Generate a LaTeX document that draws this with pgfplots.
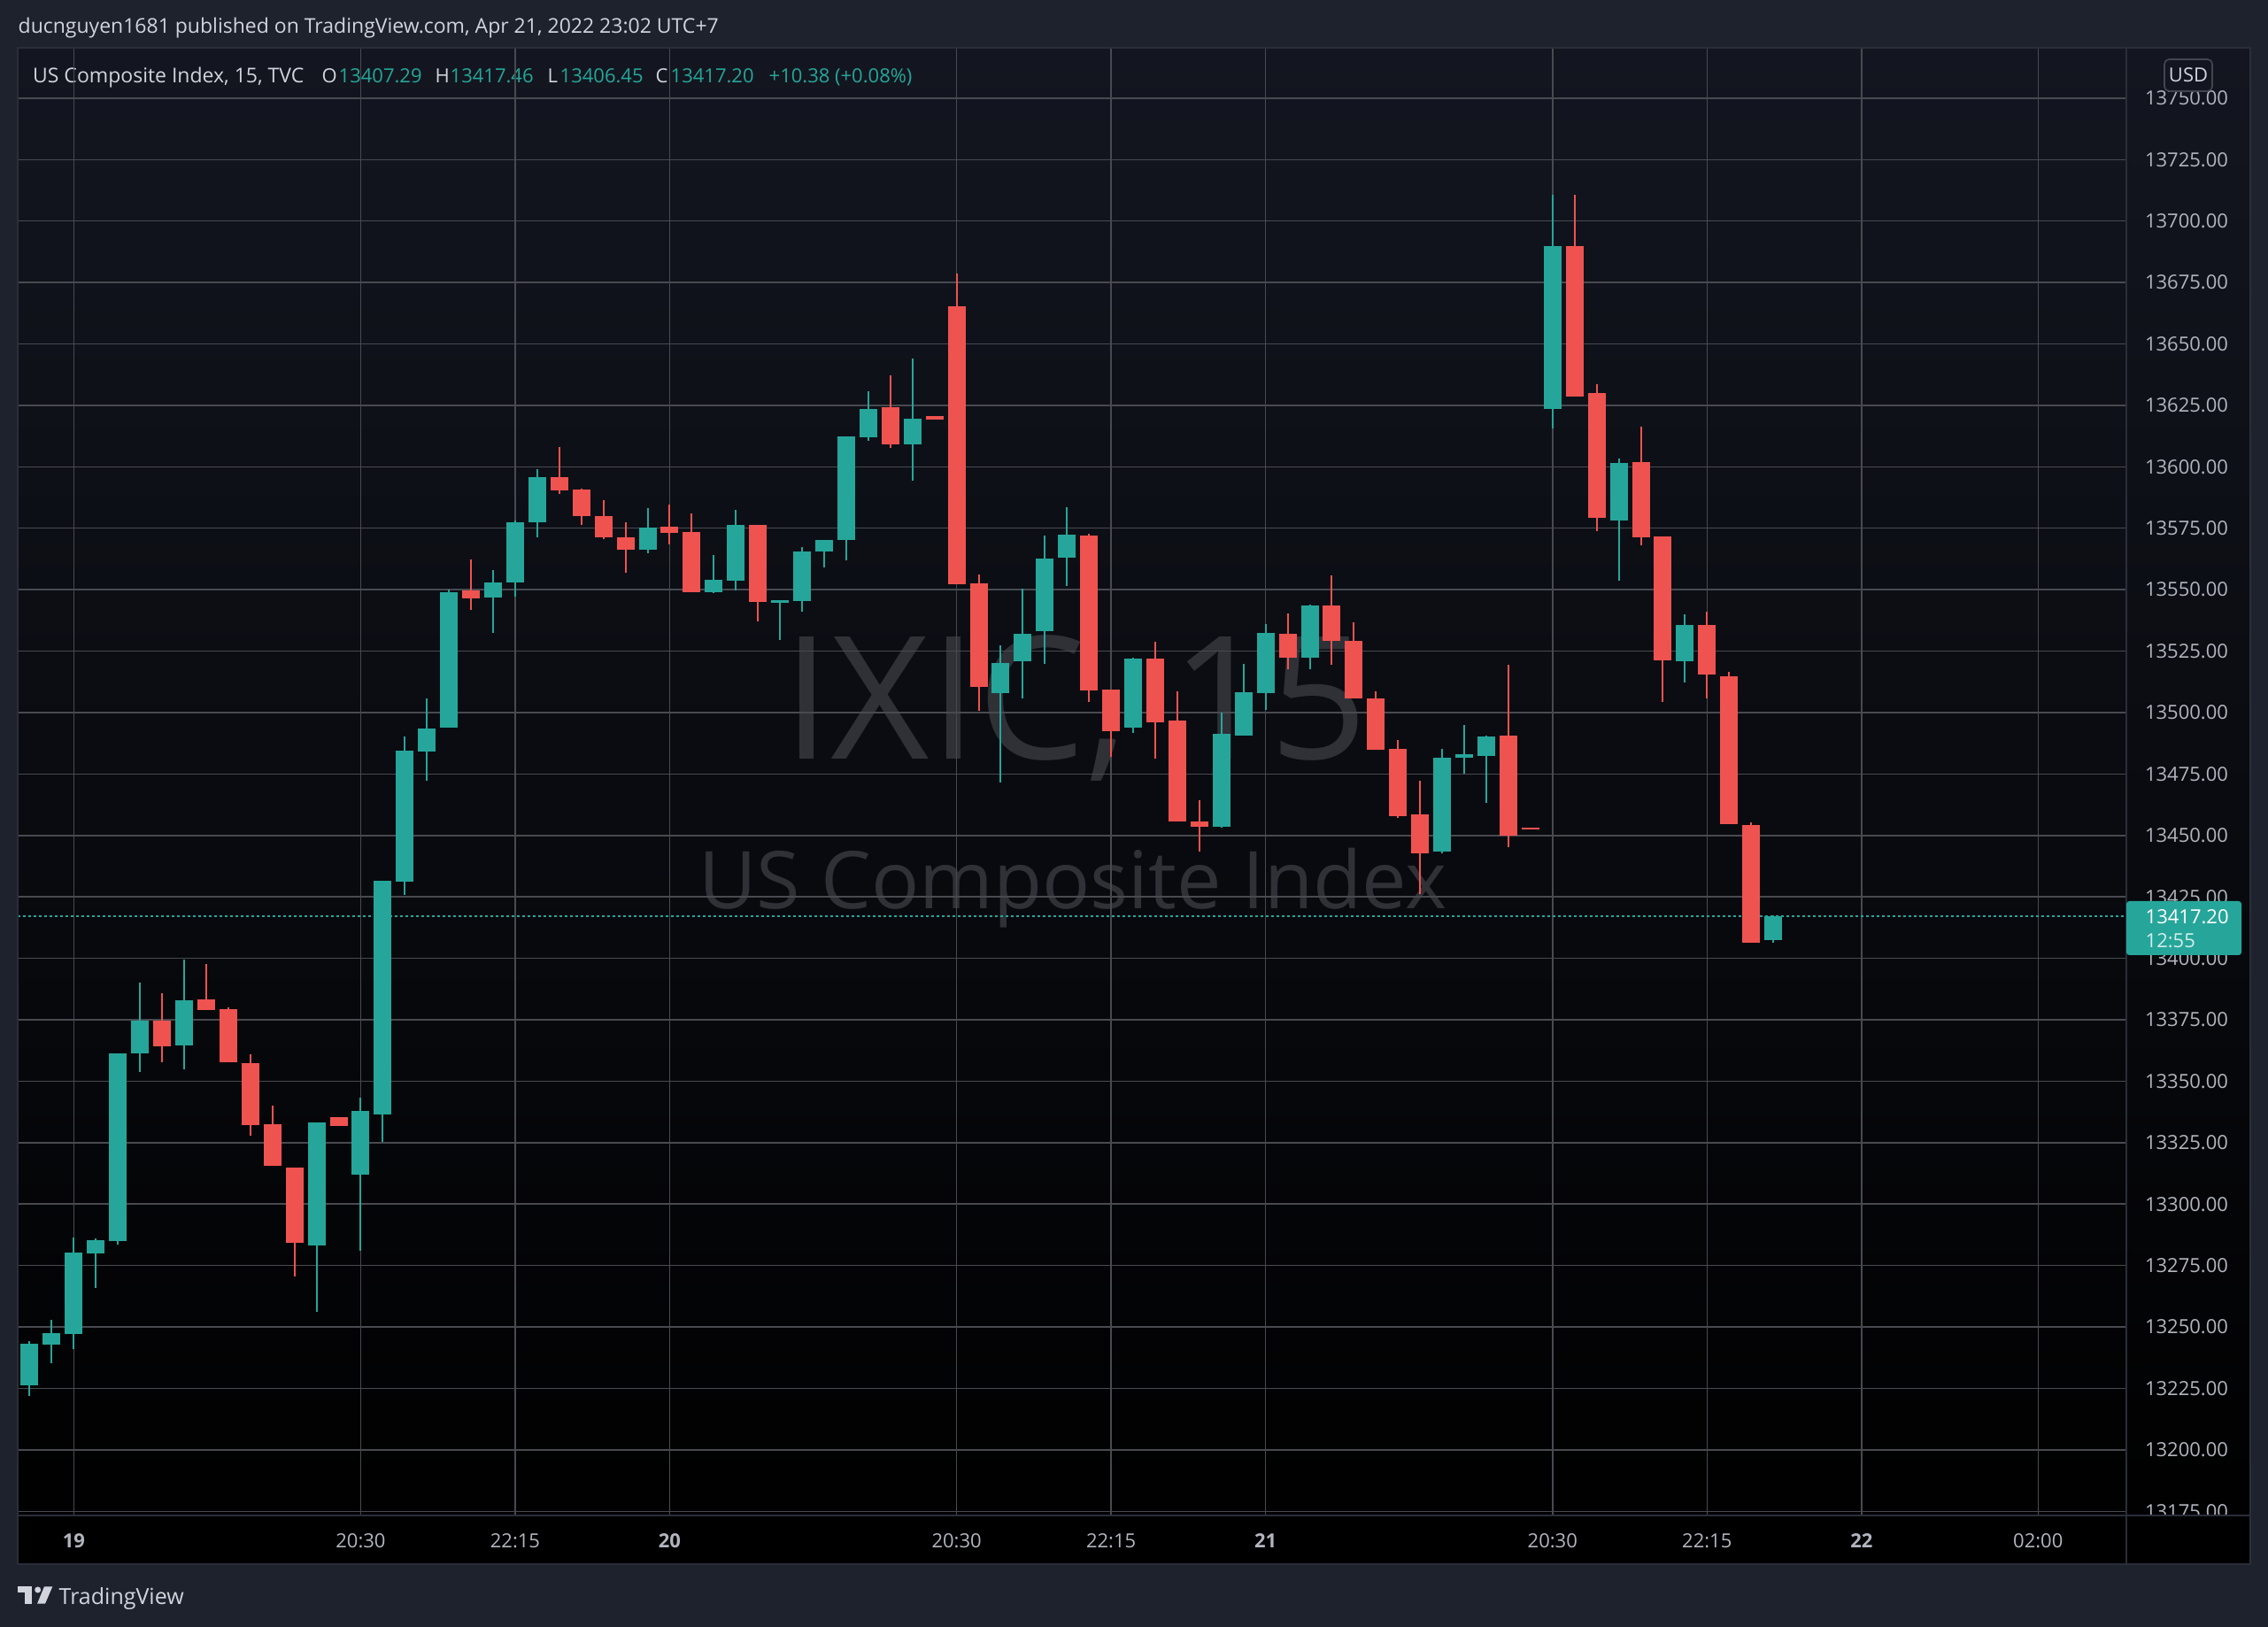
\documentclass[border=0pt]{standalone}
\usepackage{fontspec}
\setmainfont{Open Sans}
\usepackage{pgfplots}
\pgfplotsset{compat=1.18}
\usepackage{pgfplotstable}

\definecolor{outerbg}{RGB}{30,34,45}
\definecolor{panetop}{RGB}{19,22,32}
\definecolor{bordercol}{RGB}{42,46,57}
\definecolor{gridcol}{RGB}{72,74,80}
\definecolor{upcol}{RGB}{38,166,154}
\definecolor{downcol}{RGB}{239,83,80}
\definecolor{txt}{RGB}{209,212,220}
\definecolor{ticktxt}{RGB}{178,181,190}
\definecolor{wmcol}{RGB}{47,49,55}
\definecolor{usdborder}{RGB}{67,70,81}

\newcommand\tvf{\fontsize{6.6pt}{8pt}\selectfont}
\newcommand\hdf{\fontsize{6.9pt}{8pt}\selectfont}

% 15-minute candles, x = candle index (0 = Apr 18 23:30)
\pgfplotstableread{
i O H L C
0 13226.4 13244.3 13222.1 13243.2
1 13242.8 13253.0 13235.2 13247.5
2 13247.1 13286.5 13241.1 13280.3
3 13279.9 13286.1 13265.9 13285.4
4 13285.0 13361.4 13283.5 13361.4
5 13361.4 13390.2 13353.8 13374.7
7 13364.6 13399.5 13354.8 13383.0
13 13283.0 13333.3 13256.3 13333.3
15 13312.0 13343.4 13281.0 13338.0
16 13336.3 13431.4 13325.2 13431.4
17 13431.2 13490.4 13425.9 13484.6
18 13484.2 13505.6 13472.2 13493.4
19 13493.8 13550.0 13493.8 13549.1
21 13546.8 13558.1 13532.5 13553.0
22 13553.0 13578.2 13547.0 13577.6
23 13577.4 13598.9 13571.4 13595.9
28 13566.2 13583.3 13564.7 13575.4
31 13549.0 13564.0 13548.5 13553.9
32 13553.6 13582.3 13549.7 13576.2
34 13544.6 13545.9 13529.5 13545.6
35 13545.3 13567.2 13541.0 13565.4
36 13565.4 13570.4 13559.0 13570.4
37 13570.2 13612.2 13561.9 13612.2
38 13612.0 13630.9 13610.5 13623.4
40 13609.1 13643.9 13594.3 13619.4
44 13507.9 13527.3 13471.5 13520.1
45 13520.9 13550.4 13505.7 13532.0
46 13533.1 13572.0 13519.8 13562.6
47 13563.0 13583.5 13551.5 13572.4
50 13493.8 13522.3 13491.7 13521.9
54 13453.5 13500.0 13453.2 13491.3
55 13490.6 13519.8 13490.6 13508.3
56 13507.9 13536.0 13501.0 13532.4
58 13522.5 13543.8 13517.5 13543.4
64 13443.6 13485.4 13442.9 13481.8
65 13481.5 13495.1 13475.3 13482.9
66 13482.5 13490.8 13463.4 13490.1
69 13623.5 13710.6 13615.7 13689.8
72 13578.3 13603.5 13553.6 13601.4
75 13520.9 13540.1 13512.3 13535.8
79 13407.29 13417.46 13406.45 13417.20
}\upcandles

\pgfplotstableread{
i O H L C
6 13374.7 13385.9 13357.7 13364.3
8 13383.4 13397.8 13379.0 13379.0
9 13379.4 13380.1 13357.7 13357.7
10 13357.4 13361.0 13327.8 13332.3
11 13332.5 13340.1 13315.4 13315.4
12 13314.9 13314.9 13270.7 13284.4
14 13335.4 13335.4 13331.9 13331.9
20 13549.8 13562.4 13541.7 13546.4
24 13595.9 13608.1 13588.9 13590.4
25 13590.6 13591.0 13576.3 13579.9
26 13580.1 13586.5 13570.5 13571.4
27 13571.4 13577.6 13556.8 13566.2
29 13575.5 13584.5 13568.6 13573.1
30 13573.3 13581.2 13549.0 13549.0
33 13576.2 13576.2 13537.1 13545.0
39 13624.1 13637.4 13607.7 13609.1
41 13620.5 13620.5 13619.2 13619.2
42 13665.2 13678.5 13552.2 13552.2
43 13552.6 13556.2 13500.8 13510.5
48 13572.0 13572.7 13504.3 13509.0
49 13509.3 13509.3 13482.0 13492.4
51 13521.9 13528.8 13481.2 13496.0
52 13496.7 13508.6 13455.7 13455.7
53 13455.7 13464.3 13443.4 13453.5
57 13532.2 13540.5 13517.5 13522.5
59 13543.4 13556.0 13519.3 13529.0
60 13529.0 13536.6 13505.6 13505.6
61 13505.9 13508.5 13484.7 13484.7
62 13485.4 13489.0 13457.0 13458.0
63 13458.4 13472.1 13426.0 13442.9
67 13490.8 13519.6 13445.1 13450.1
68 13453.1 13453.1 13452.4 13452.4
70 13689.8 13710.6 13628.6 13628.6
71 13629.9 13633.7 13573.8 13579.3
73 13601.8 13616.2 13567.9 13571.4
74 13571.6 13571.6 13504.3 13521.3
76 13535.8 13540.9 13505.7 13515.5
77 13514.9 13516.4 13454.6 13454.6
78 13454.4 13455.4 13406.3 13406.3
}\downcandles

\begin{document}
\begin{tikzpicture}
% outer background
\fill[outerbg] (0pt,0pt) rectangle (768.6pt,551.4pt);
% chart pane gradient
\shade[top color=panetop, bottom color=black] (6pt,535.2pt) rectangle (762.6pt,21.3pt);

\begin{scope}[x=0.3pt,y=-0.3pt,shift={(0pt,551.4pt)}]
  % time axis row
  \fill[black] (20,1712) rectangle (2542,1767);
  % watermark
  \node[anchor=base, inner sep=0pt, text=wmcol, font=\fontsize{58pt}{60pt}\selectfont] at (1215,858) {IXIC, 15};
  \node[anchor=base, inner sep=0pt, text=wmcol, font=\fontsize{27pt}{30pt}\selectfont] at (1212,1027) {US Composite Index};
  % header
  \node[anchor=base west, inner sep=0pt, text=txt, font=\hdf] at (20,37.7) {ducnguyen1681 published on TradingView.com, Apr 21, 2022 23:02 UTC+7};
  % legend line
  \begin{scope}[every node/.style={anchor=base west, inner sep=0pt, font=\tvf}]
    \node[text=txt, font=\hdf] at (36.5,93.3) {US Composite Index, 15, TVC};
    \node[text=txt] at (363,93.3) {O};
    \node[text=upcol] at (382,93.3) {13407.29};
    \node[text=txt] at (491,93.3) {H};
    \node[text=upcol] at (508,93.3) {13417.46};
    \node[text=txt] at (618,93.3) {L};
    \node[text=upcol] at (632,93.3) {13406.45};
    \node[text=txt] at (740,93.3) {C};
    \node[text=upcol] at (757,93.3) {13417.20};
    \node[text=upcol] at (868,93.3) {+10.38 (+0.08\%)};
  \end{scope}
  % TradingView logo
  \fill[txt] (20,1792.3) rectangle (36,1799.3);
  \fill[txt] (28,1792.3) rectangle (36,1811.7);
  \fill[txt] (42.7,1796) circle (3.5);
  \fill[txt] (50,1792.3) -- (59.3,1792.3) -- (51,1811.7) -- (42,1811.7) -- cycle;
  \node[anchor=base west, inner sep=0pt, text=txt, font=\fontsize{7.5pt}{9pt}\selectfont] at (66,1812) {TradingView};
\end{scope}

\begin{axis}[
  at={(6pt,37.8pt)}, anchor=south west,
  scale only axis, width=714.6pt, height=497.4pt,
  xmin=-0.54, xmax=95.0, ymin=13173.3, ymax=13770.5,
  scaled x ticks=false, scaled y ticks=false,
  axis line style={draw=none},
  major tick length=0pt,
  grid=major,
  major grid style={draw=gridcol, line width=0.45pt},
  xtick={2,15,22,29,42,49,56,69,76,83,91},
  xticklabels={\textbf{19},20:30,22:15,\textbf{20},20:30,22:15,\textbf{21},20:30,22:15,\textbf{22},02:00},
  xticklabel style={anchor=center, yshift=-8.7pt, inner sep=0pt, text=ticktxt, font=\tvf},
  ytick={13175,13200,13225,13250,13275,13300,13325,13350,13375,13400,13425,13450,13475,13500,13525,13550,13575,13600,13625,13650,13675,13700,13725,13750},
  yticklabels={13175.00,13200.00,13225.00,13250.00,13275.00,13300.00,13325.00,13350.00,13375.00,13400.00,13425.00,13450.00,13475.00,13500.00,13525.00,13550.00,13575.00,13600.00,13625.00,13650.00,13675.00,13700.00,13725.00,13750.00},
  yticklabel pos=right,
  yticklabel style={anchor=center, xshift=20.4pt, inner sep=0pt, text=ticktxt, font=\tvf},
]
% last price line
\addplot[draw=upcol, line width=0.5pt, dash pattern=on 0.9pt off 0.9pt, forget plot] coordinates {(-0.54,13417.2) (95,13417.2)};
% up candles
\addplot[draw=none, mark=none, forget plot,
  error bars/.cd, y dir=plus, y explicit, error mark=none,
  error bar style={draw=upcol, line width=0.6pt}]
  table[x=i, y=L, y error expr=\thisrow{H}-\thisrow{L}] {\upcandles};
\addplot[draw=none, mark=none, forget plot,
  error bars/.cd, y dir=plus, y explicit, error mark=none,
  error bar style={draw=upcol, line width=6pt}]
  table[x=i, y=O, y error expr=\thisrow{C}-\thisrow{O}] {\upcandles};
% down candles
\addplot[draw=none, mark=none, forget plot,
  error bars/.cd, y dir=plus, y explicit, error mark=none,
  error bar style={draw=downcol, line width=0.6pt}]
  table[x=i, y=L, y error expr=\thisrow{H}-\thisrow{L}] {\downcandles};
\addplot[draw=none, mark=none, forget plot,
  error bars/.cd, y dir=plus, y explicit, error mark=none,
  error bar style={draw=downcol, line width=6pt}]
  table[x=i, y=C, y error expr=\thisrow{O}-\thisrow{C}] {\downcandles};
\end{axis}

\begin{scope}[x=0.3pt,y=-0.3pt,shift={(0pt,551.4pt)}]
  % cover the lower part of the lowest price label
  \fill[black] (2402,1712) rectangle (2542,1767);
  % pane borders and separators
  \draw[bordercol, line width=0.6pt] (20,54) rectangle (2542,1767);
  \draw[bordercol, line width=0.6pt] (2402,54) -- (2402,1767);
  \draw[bordercol, line width=0.6pt] (20,1712) -- (2542,1712);
  % USD box
  \draw[usdborder, fill=panetop, line width=0.5pt, rounded corners=1.6pt] (2445,67) rectangle (2499,103);
  \node[anchor=center, inner sep=0pt, text=txt, font=\tvf] at (2472,85) {USD};
  % last price box
  \fill[upcol, rounded corners=1pt] (2402,1018) rectangle (2532,1079);
  \node[anchor=west, inner sep=0pt, text=white, font=\tvf] at (2423,1036) {13417.20};
  \node[anchor=west, inner sep=0pt, text=white, text opacity=0.8, font=\tvf] at (2423,1063) {12:55};
\end{scope}

\pgfresetboundingbox
\path (0pt,0pt) rectangle (768.6pt,551.4pt);
\end{tikzpicture}
\end{document}
